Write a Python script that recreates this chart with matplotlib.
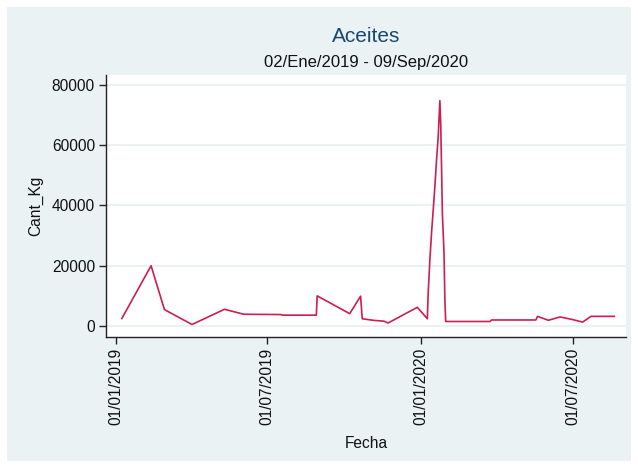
import matplotlib
matplotlib.use("Agg")
import matplotlib.pyplot as plt
import matplotlib.dates as mdates
from matplotlib.patches import Rectangle
import numpy as np

plt.rcParams['font.family'] = ['Liberation Sans', 'DejaVu Sans']

fechas = [
    "2019-01-08", "2019-02-12", "2019-02-28", "2019-04-02", "2019-05-11",
    "2019-06-03", "2019-07-17", "2019-07-20", "2019-08-29", "2019-08-30",
    "2019-10-08", "2019-10-21", "2019-10-23", "2019-11-05", "2019-11-18",
    "2019-11-23", "2019-12-28", "2020-01-09", "2020-01-10", "2020-01-12",
    "2020-01-14", "2020-01-16", "2020-01-18", "2020-01-20", "2020-01-22",
    "2020-01-24", "2020-01-25", "2020-01-26", "2020-01-27", "2020-01-29",
    "2020-01-30", "2020-01-31", "2020-03-24", "2020-03-26", "2020-05-18",
    "2020-05-20", "2020-06-02", "2020-06-16", "2020-06-30", "2020-07-13",
    "2020-07-23", "2020-08-20",
]
cant_kg = [
    2500, 20000, 5450, 500, 5550,
    3900, 3800, 3600, 3600, 10000,
    4100, 9900, 2400, 1900, 1600,
    1000, 6200, 2400, 10900, 21800,
    30800, 38400, 46200, 55000, 62800,
    74800, 67300, 52800, 37400, 24100,
    8500, 1500, 1500, 2000, 2000,
    3200, 1900, 3000, 2200, 1300,
    3200, 3200,
]
yticks = [0, 20000, 40000, 60000, 80000]
xticks = ["2019-01-01", "2019-07-01", "2020-01-01", "2020-07-01"]

bg = '#EAF2F3'
fig = plt.figure(figsize=(6.38, 4.68), dpi=100, facecolor='white')
fig.patches.append(Rectangle((7/638, 7/468), 624/638, 454/468,
                             transform=fig.transFigure, facecolor=bg,
                             edgecolor='none', zorder=-10))

ax = fig.add_axes([106/638, 1-337/468, 520/638, 262/468])
ax.set_facecolor('white')

x = np.array(fechas, dtype='datetime64[D]')
ax.plot(x, cant_kg, color='#CC1E4F', lw=1.2, zorder=3)

ax.set_ylim(-3650, 83300)
ax.set_xlim(np.datetime64('2018-12-20'), np.datetime64('2020-09-03'))
ax.set_yticks(yticks)
ax.set_yticklabels([str(v) for v in yticks])
ax.set_xticks(np.array(xticks, dtype='datetime64[D]'))
ax.xaxis.set_major_formatter(mdates.DateFormatter('%d/%m/%Y'))
ax.tick_params(axis='x', rotation=90, labelsize=11.2, length=5, width=1,
               color='#222222', labelcolor='#111111', pad=3)
ax.tick_params(axis='y', labelsize=11.2, length=5, width=1,
               color='#222222', labelcolor='#111111', pad=3)
ax.grid(axis='y', color=bg, lw=1.5, zorder=0)
for s in ['top', 'right']:
    ax.spines[s].set_visible(False)
for s in ['left', 'bottom']:
    ax.spines[s].set_color('#222222')
    ax.spines[s].set_linewidth(1.0)

ax.set_ylabel('Cant_Kg', fontsize=11.2, color='#111111', labelpad=6)
ax.set_xlabel('Fecha', fontsize=11.2, color='#111111', labelpad=8)

cx = (106 + 626) / 2 / 638
fig.text(cx, 1 - 37/468, 'Aceites', ha='center', va='center',
         fontsize=15, color='#1A476F')
fig.text(cx, 1 - 62/468, '02/Ene/2019 - 09/Sep/2020', ha='center',
         va='center', fontsize=12, color='#111111')

fig.savefig('out.png', dpi=100, facecolor='white')
